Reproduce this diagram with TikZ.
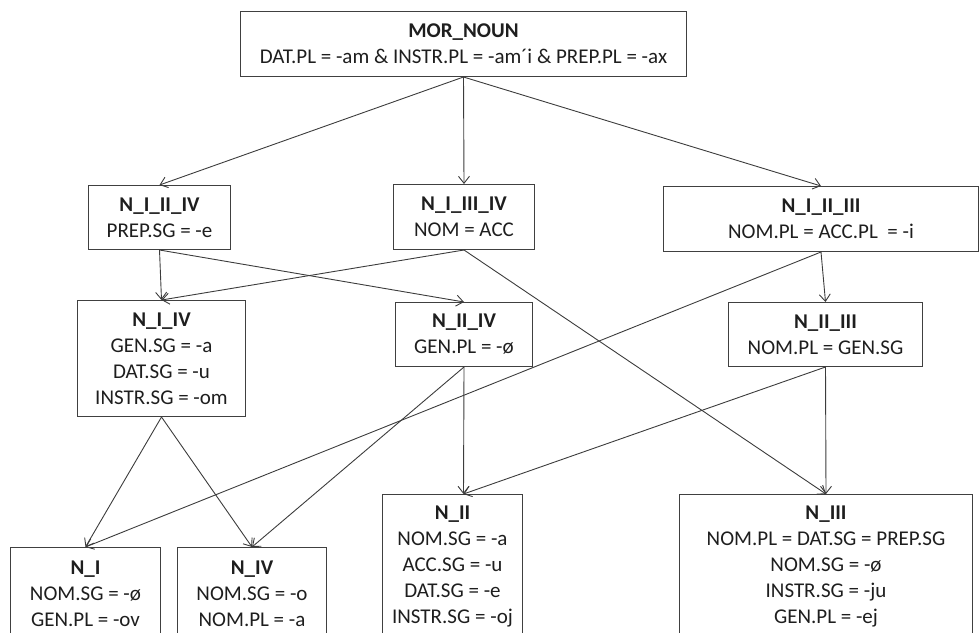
\documentclass[tikz,border=0pt]{standalone}
\usepackage{fontspec}
\setmainfont{Carlito}
\usetikzlibrary{arrows.meta}
\definecolor{edgec}{HTML}{3C3C3C}
\definecolor{boxc}{HTML}{404040}
\definecolor{txtc}{HTML}{1E1E1E}
\tikzset{
  cls/.style n args={2}{draw=boxc, line width=1pt, text=txtc, align=center,
    inner sep=0pt, anchor=north west, font=\fontsize{21}{26}\selectfont,
    minimum width=#1pt, minimum height=#2pt},
  link/.style={draw=edgec, line width=0.9pt, -{Straight Barb[length=7pt,width=11pt]}},
}
\begin{document}
\begin{tikzpicture}[x=1pt,y=-1pt]
\useasboundingbox (0,0) rectangle (979,632);
\clip (0,0) rectangle (979,632);

% root class
\node[cls={446}{65}] (top) at (240,11)
  {\textbf{MOR\_NOUN}\\DAT.PL = -am \& INSTR.PL = -am´i \& PREP.PL = -ax};

% second level
\node[cls={142}{64}] (n124) at (88,185) {\textbf{N\_I\_II\_IV}\\PREP.SG = -e};
\node[cls={141}{65}] (n134) at (393,184) {\textbf{N\_I\_III\_IV}\\NOM = ACC};
\node[cls={315}{65}] (n123) at (663,186) {\textbf{N\_I\_II\_III}\\NOM.PL = ACC.PL \ = -i};

% third level
\node[cls={168}{116}] (n14) at (77,300)
  {\textbf{N\_I\_IV}\\GEN.SG = -a\\DAT.SG = -u\\INSTR.SG = -om};
\node[cls={137}{64}] (n24) at (395,302) {\textbf{N\_II\_IV}\\GEN.PL = -ø};
\node[cls={194}{64}] (n23) at (728,302) {\textbf{N\_II\_III}\\NOM.PL = GEN.SG};

% leaf classes
\node[cls={150}{92}] (n1) at (10,547) {\textbf{N\_I}\\NOM.SG = -ø\\GEN.PL = -ov};
\node[cls={149}{92}] (n4) at (177,547) {\textbf{N\_IV}\\NOM.SG = -o\\NOM.PL = -a};
\node[cls={140}{144}] (n2) at (382,494)
  {\textbf{N\_II}\\NOM.SG = -a\\ACC.SG = -u\\DAT.SG = -e\\INSTR.SG = -oj};
\node[cls={293}{144}] (n3) at (679,494)
  {\textbf{N\_III}\\NOM.PL = DAT.SG = PREP.SG\\NOM.SG = -ø\\INSTR.SG = -ju\\GEN.PL = -ej};

\coordinate (n2top) at ([xshift=11pt]n2.north);

% inheritance links
\draw[link] (top.south) -- (n124.north);
\draw[link] (top.south) -- (n134.north);
\draw[link] (top.south) -- (n123.north);
\draw[link] (n124.south) -- (n14.north);
\draw[link] (n124.south) -- (n24.north);
\draw[link] (n134.south) -- (n14.north);
\draw[link] (n134.south) -- (n3.north);
\draw[link] (n123.south) -- (n23.north);
\draw[link] (n123.south) -- (n1.north);
\draw[link] (n14.south) -- (n1.north);
\draw[link] (n14.south) -- (n4.north);
\draw[link] (n24.south) -- (n4.north);
\draw[link] (n24.south) -- (n2top);
\draw[link] (n23.south) -- (n2top);
\draw[link] (n23.south) -- (n3.north);
\end{tikzpicture}
\end{document}
